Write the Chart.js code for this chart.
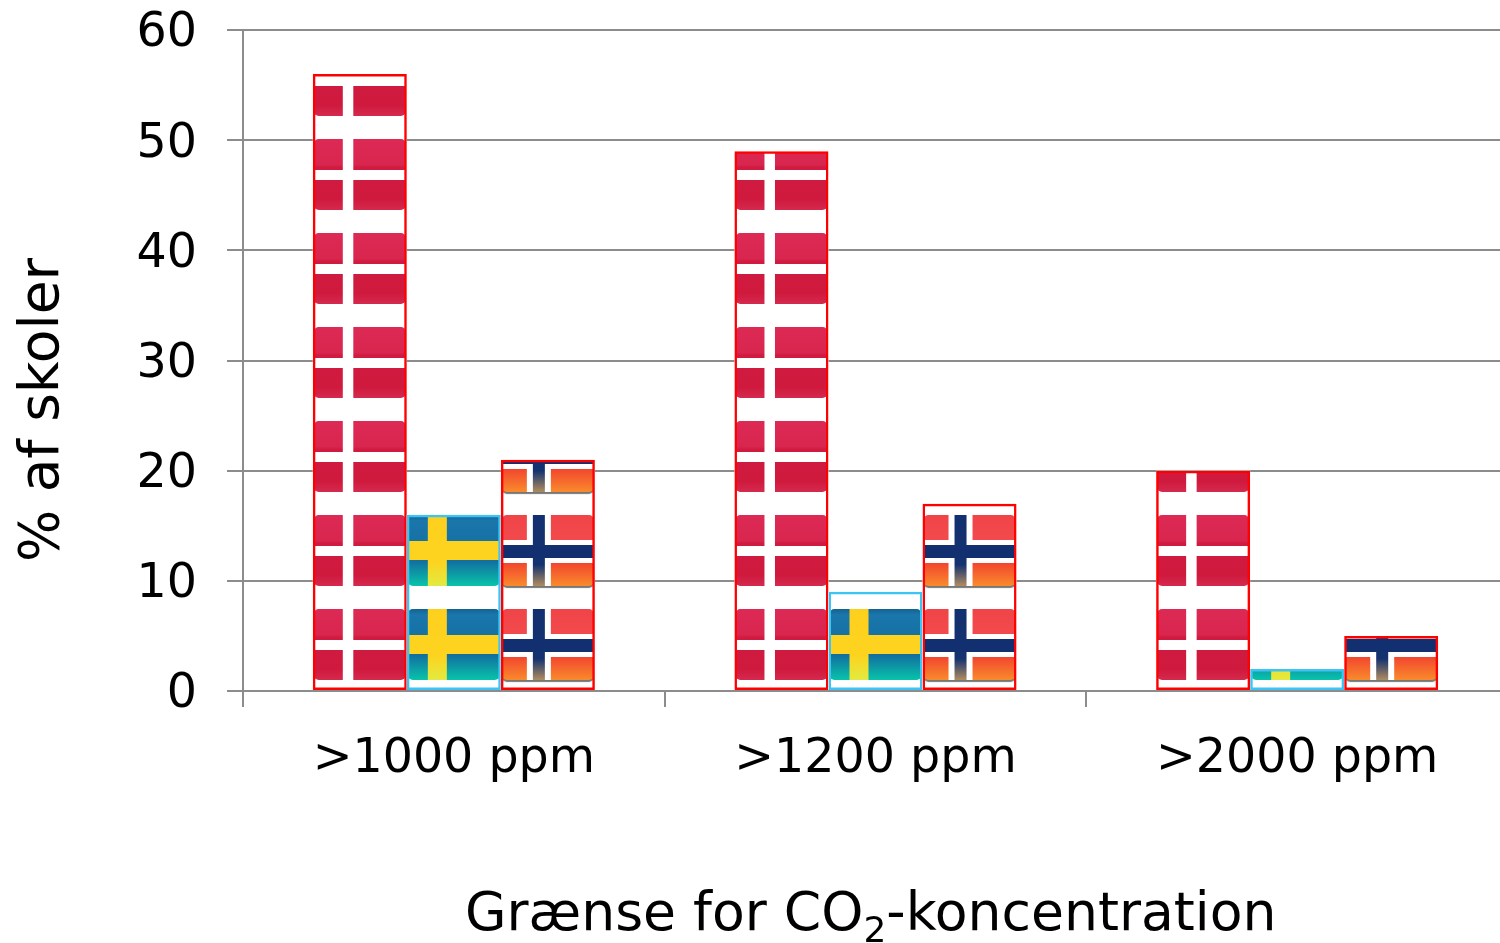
<!DOCTYPE html>
<html lang="da">
<head>
<meta charset="utf-8">
<title>CO2 i skoler</title>
<style>
    html, body { margin: 0; padding: 0; background: #fff; overflow: hidden; width: 1500px; height: 943px; }
    canvas { display: block; }
</style>
<script src="https://cdn.jsdelivr.net/npm/chart.js@4"></script>
</head>
<body>
<canvas id="chart" width="1508" height="943"></canvas>
<script>
const categories = ['>1000 ppm', '>1200 ppm', '>2000 ppm'];
const denmark = [56, 49, 20];
const sweden = [16, 9, 2];
const norway = [21, 17, 5];
const yTitle = '% af skoler';
const xTitleParts = ['Grænse for CO', '2', '-koncentration'];

const fontFamily = '"DejaVu Sans", sans-serif';
const gridColor = '#8c8c8c';

function roundedFlag(ctx, x, y, w, h) {
    ctx.beginPath();
    ctx.roundRect(x, y, w, h, 5);
}

function vGrad(ctx, y, h, stops) {
    const g = ctx.createLinearGradient(0, y, 0, y + h);
    stops.forEach(s => g.addColorStop(s[0], s[1]));
    return g;
}

function drawDenmark(ctx, x, y, w, h) {
    ctx.fillStyle = vGrad(ctx, y, h, [[0, '#dc2a55'], [0.36, '#d8264f'], [0.4, '#d01a40'], [0.85, '#cf1a3e'], [1, '#d42a4e']]);
    roundedFlag(ctx, x, y, w, h);
    ctx.fill();
    ctx.fillStyle = '#fff';
    ctx.fillRect(x + 29, y - 1, 10.5, h + 2);
    ctx.fillRect(x - 1, y + 31, w + 2, 10);
}

function drawSweden(ctx, x, y, w, h) {
    ctx.fillStyle = vGrad(ctx, y, h, [[0, '#14628f'], [0.08, '#1a76ab'], [0.65, '#126f9f'], [1, '#08c4aa']]);
    roundedFlag(ctx, x, y, w, h);
    ctx.fill();
    ctx.fillStyle = vGrad(ctx, y, h, [[0, '#fdd01e'], [0.65, '#fdd31f'], [1, '#e2ea40']]);
    ctx.fillRect(x + 20, y, 19, h);
    ctx.fillStyle = '#fdd31f';
    ctx.fillRect(x, y + 26, w, 19);
}

function drawNorway(ctx, x, y, w, h) {
    ctx.save();
    ctx.shadowColor = 'rgba(60,60,60,0.7)';
    ctx.shadowOffsetY = 2;
    ctx.shadowBlur = 1;
    ctx.fillStyle = vGrad(ctx, y, h, [[0, '#f04448'], [0.35, '#f24a4c'], [0.65, '#f2402f'], [1, '#f98b2c']]);
    roundedFlag(ctx, x, y, w, h);
    ctx.fill();
    ctx.restore();
    ctx.fillStyle = '#fff';
    ctx.fillRect(x + 25, y, 24, h);
    ctx.fillRect(x, y + 25, w, 23);
    ctx.fillStyle = vGrad(ctx, y, h, [[0, '#12306f'], [0.7, '#14326f'], [1, '#b08c60']]);
    ctx.fillRect(x + 31, y, 12, h);
    ctx.fillStyle = '#12306f';
    ctx.fillRect(x, y + 30, w, 13);
}

const flagPainters = [drawDenmark, drawSweden, drawNorway];

// paints the bars left to right with the flags stacked up from the base
const flagBars = {
    id: 'flagBars',
    beforeDatasetsDraw(chart) {
        const ctx = chart.ctx;
        chart.data.datasets.forEach((dataset, d) => {
            chart.getDatasetMeta(d).data.forEach(bar => {
                const left = bar.x - bar.width / 2;
                ctx.save();
                ctx.fillStyle = '#fff';
                ctx.fillRect(left, bar.y, bar.width, bar.base - bar.y);
                ctx.beginPath();
                ctx.rect(left + 1, bar.y + 1, bar.width - 2, bar.base - bar.y - 1);
                ctx.clip();
                for (let top = bar.base - 81; top + 71 > bar.y; top -= 94) {
                    flagPainters[d](ctx, bar.x - 46, top, 92, 71);
                }
                ctx.restore();
                bar.options.backgroundColor = 'rgba(0,0,0,0)';
                bar.draw(ctx);
            });
        });
        return false;
    }
};

// axis titles sit off centre in the original, so they are placed by hand
const axisTitles = {
    id: 'axisTitles',
    beforeDraw(chart) {
        // y labels sit a bit lower on their gridlines in the original
        chart.scales.y.getLabelItems().forEach(item => {
            item.options.translation[1] += 4;
        });
    },
    afterDraw(chart) {
        const ctx = chart.ctx;
        const bigFont = '53.6px ' + fontFamily;
        const subFont = '36px ' + fontFamily;
        ctx.save();
        ctx.fillStyle = '#000';
        ctx.textBaseline = 'alphabetic';
        ctx.textAlign = 'left';
        let x = 465;
        ctx.font = bigFont;
        ctx.fillText(xTitleParts[0], x, 930);
        x += ctx.measureText(xTitleParts[0]).width;
        ctx.font = subFont;
        ctx.fillText(xTitleParts[1], x, 942);
        x += ctx.measureText(xTitleParts[1]).width;
        ctx.font = bigFont;
        ctx.fillText(xTitleParts[2], x, 930);
        ctx.textAlign = 'center';
        ctx.font = '55px ' + fontFamily;
        ctx.translate(58, 410);
        ctx.rotate(-Math.PI / 2);
        ctx.fillText(yTitle, 0, 0);
        ctx.restore();
    }
};

new Chart(document.getElementById('chart'), {
    type: 'bar',
    data: {
        labels: categories,
        datasets: [
            { label: 'Danmark', data: denmark, borderColor: '#ff0000' },
            { label: 'Sverige', data: sweden, borderColor: '#3cc4f4' },
            { label: 'Norge', data: norway, borderColor: '#ff0000' }
        ]
    },
    options: {
        responsive: false,
        animation: false,
        layout: { padding: { top: 30, right: 0, bottom: 0, left: 0 } },
        datasets: {
            bar: {
                categoryPercentage: 0.669,
                barPercentage: 1,
                borderWidth: 2.5,
                borderSkipped: false,
                backgroundColor: '#ffffff'
            }
        },
        plugins: {
            legend: { display: false },
            tooltip: { enabled: false }
        },
        scales: {
            x: {
                afterFit(scale) { scale.height = 252; },
                grid: { drawOnChartArea: false, color: gridColor, lineWidth: 2, tickLength: 16 },
                border: { color: gridColor, width: 2, z: 1 },
                ticks: { color: '#000', padding: 24, font: { family: fontFamily, size: 47.5 }, maxRotation: 0 }
            },
            y: {
                min: 0,
                max: 60,
                afterFit(scale) { scale.width = 243; scale.paddingTop = 0; },
                grid: { color: gridColor, lineWidth: 2, tickLength: 16 },
                border: { color: gridColor, width: 2 },
                ticks: { stepSize: 10, color: '#000', padding: 30, font: { family: fontFamily, size: 47.5 } }
            }
        }
    },
    plugins: [flagBars, axisTitles]
});
</script>
</body>
</html>
